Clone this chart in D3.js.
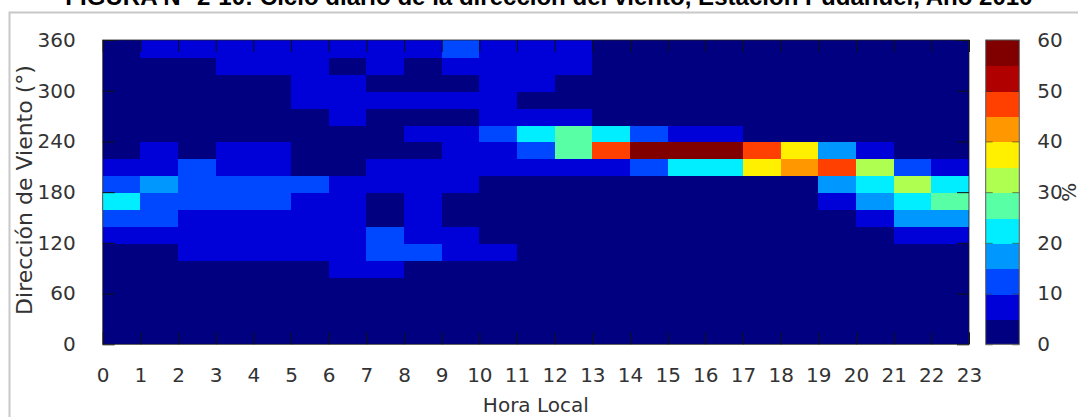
<!DOCTYPE html>
<html>
<head>
<meta charset="utf-8">
<script src="https://cdn.jsdelivr.net/npm/d3@7"></script>
<style>
  html, body { margin: 0; padding: 0; background: #fff; overflow: hidden; }
  svg { display: block; }
</style>
</head>
<body>
<svg id="chart" width="1078" height="417"></svg>
<script>
// ---------------- DATA ----------------
const titleText = "FIGURA N° 2-10: Ciclo diario de la dirección del viento, Estación Pudahuel, Año 2010";
const xTitle = "Hora Local";
const yTitle = "Dirección de Viento (°)";
const cbTitle = "%";

const hourTicks = d3.range(0, 24);                 // 0 .. 23
const dirTicks = [0, 60, 120, 180, 240, 300, 360];
const dirBins = d3.range(0, 360, 20);              // lower edge of each 20° band
const colorTicks = [0, 10, 20, 30, 40, 50, 60];
const colorLevels = ["#000080", "#0000D9", "#0048FF", "#0098FF", "#00EEFF", "#58FFA5",
                     "#AEFF50", "#FFF000", "#FF9800", "#FF4000", "#B00000", "#800000"];

// % frequency per hour (columns 0..22) for each direction band
const dir000 = [1,1,1,1,1,1,1,1,1,1,1,1,1,1,1,1,1,1,1,1,1,1,1];
const dir020 = [1,1,1,1,1,1,1,1,1,1,1,1,1,1,1,1,1,1,1,1,1,1,1];
const dir040 = [1,1,1,1,1,1,2,2,1,1,1,1,1,1,1,1,1,1,1,1,1,1,1];
const dir060 = [2,2,2,2,2,2,3,3,2,2,2,1,1,1,1,1,1,1,1,1,1,1,1];
const dir080 = [2,2,2,3,3,3,6,6,4,2,2,1,1,1,1,1,1,1,1,1,1,1,1];
const dir100 = [4,4,7,7,7,7,7,12,12,7,6,2,1,1,1,1,1,1,1,1,2,3,3];
const dir120 = [8,8,8,8,8,8,8,12,8,6,3,1,1,1,1,1,1,1,1,2,4,8,8];
const dir140 = [12,12,8,8,8,8,8,4,6,4,3,1,1,1,1,1,1,1,1,3,8,17,17];
const dir160 = [22,12,12,12,12,7,7,4,6,4,3,2,1,1,1,1,1,1,2,7,17,22,27];
const dir180 = [12,17,12,12,12,12,8,8,8,7,4,3,2,1,1,1,1,3,4,17,22,32,22];
const dir200 = [6,7,11,7,7,4,4,6,7,7,8,8,8,8,12,22,22,37,42,47,32,12,8];
const dir220 = [4,6,4,6,6,4,4,4,4,6,7,12,27,47,57,57,57,47,38,17,7,3,3];
const dir240 = [3,3,3,3,3,4,4,4,6,7,12,22,27,22,12,8,8,3,2,1,1,1,2];
const dir260 = [3,3,3,3,3,4,6,4,4,4,6,6,6,2,1,1,1,1,1,1,1,1,2];
const dir280 = [3,3,3,4,4,6,6,6,6,6,6,4,3,1,1,1,1,1,1,1,1,1,2];
const dir300 = [4,4,4,4,4,6,6,4,4,4,6,6,3,2,1,1,1,1,1,1,1,1,2];
const dir320 = [4,4,4,6,6,6,4,6,4,6,6,6,6,2,1,1,1,1,1,1,1,1,2];
const dir340 = [3,7,7,7,7,7,7,7,7,11,7,7,6,2,1,1,1,1,1,1,1,1,2];

const rows = [dir000, dir020, dir040, dir060, dir080, dir100, dir120, dir140, dir160,
              dir180, dir200, dir220, dir240, dir260, dir280, dir300, dir320, dir340];

// ---------------- LAYOUT ----------------
const svg = d3.select("#chart");
const FONT = "'DejaVu Sans', Verdana, sans-serif";
const TXT = "#333";
const plot = { left: 102.7, right: 969, top: 40, bottom: 344.3 };
const cb = { left: 985.7, right: 1019.3 };

const x = d3.scaleLinear().domain([0, 23]).range([plot.left, plot.right]);
const y = d3.scaleLinear().domain([0, 360]).range([plot.bottom, plot.top]);
const color = d3.scaleQuantize().domain([0, 60]).range(colorLevels);
const yc = d3.scaleLinear().domain([0, 60]).range([plot.bottom, plot.top]);

// outer frame
svg.append("rect")
  .attr("x", 9.5).attr("y", 12.5).attr("width", 1200).attr("height", 600)
  .attr("fill", "none").attr("stroke", "#c8c8c8").attr("stroke-width", 2);

// title (fit width)
const title = svg.append("text")
  .attr("x", 549).attr("y", 4.5)
  .attr("text-anchor", "middle")
  .attr("font-family", "'Liberation Sans', Arial, sans-serif")
  .attr("font-weight", "bold")
  .attr("font-size", 20)
  .attr("fill", "#000")
  .text(titleText);
const tw = title.node().getComputedTextLength();
title.attr("font-size", 20 * 968 / tw);

// heatmap cells (drawn with slight overlap to hide seams)
const cells = [];
rows.forEach((row, r) => row.forEach((v, c) => cells.push({ dir: dirBins[r], hour: hourTicks[c], v })));
const cellG = svg.append("g").attr("shape-rendering", "crispEdges");
cellG.append("rect")
  .attr("x", plot.left).attr("y", plot.top)
  .attr("width", plot.right - plot.left).attr("height", plot.bottom - plot.top)
  .attr("fill", colorLevels[0]);
cellG.selectAll("rect.cell").data(cells).join("rect")
  .attr("class", "cell")
  .attr("x", d => x(d.hour))
  .attr("y", d => y(d.dir + 20))
  .attr("width", d => Math.min(x(d.hour + 1) + 1, plot.right) - x(d.hour))
  .attr("height", d => Math.min(y(d.dir) + 1, plot.bottom) - y(d.dir + 20))
  .attr("fill", d => color(d.v));

// axes (inward ticks)
const axStyle = g => {
  g.selectAll(".domain").remove();
  g.selectAll("line").attr("stroke", "#111").attr("stroke-width", 1);
  g.selectAll("text").attr("font-family", FONT).attr("font-size", 20).attr("fill", TXT);
};
svg.append("g").attr("transform", `translate(0,${plot.bottom})`)
  .call(d3.axisBottom(x).tickValues(hourTicks).tickFormat(d3.format("d")).tickSizeInner(-12).tickSizeOuter(0).tickPadding(24))
  .call(axStyle);
svg.append("g").attr("transform", `translate(0,${plot.top})`)
  .call(d3.axisTop(x).tickValues(hourTicks).tickFormat("").tickSizeInner(-12).tickSizeOuter(0))
  .call(axStyle);
svg.append("g").attr("transform", `translate(${plot.left},0)`)
  .call(d3.axisLeft(y).tickValues(dirTicks).tickSizeInner(-12).tickSizeOuter(0).tickPadding(27))
  .call(axStyle);
svg.append("g").attr("transform", `translate(${plot.right},0)`)
  .call(d3.axisRight(y).tickValues(dirTicks).tickFormat("").tickSizeInner(-12).tickSizeOuter(0))
  .call(axStyle);

svg.append("rect")
  .attr("x", plot.left).attr("y", plot.top)
  .attr("width", plot.right - plot.left).attr("height", plot.bottom - plot.top)
  .attr("fill", "none").attr("stroke", "#222").attr("stroke-width", 0.8);

// axis titles
svg.append("text")
  .attr("x", (plot.left + plot.right) / 2).attr("y", 412)
  .attr("text-anchor", "middle").attr("font-family", FONT).attr("font-size", 20).attr("fill", TXT)
  .text(xTitle);
svg.append("text")
  .attr("transform", `translate(32,190) rotate(-90)`)
  .attr("text-anchor", "middle").attr("font-family", FONT).attr("font-size", 22).attr("fill", TXT)
  .text(yTitle);

// colorbar
const bands = d3.range(colorLevels.length).map(i => ({ lo: i * 5, hi: i * 5 + 5, c: colorLevels[i] }));
svg.append("g").attr("shape-rendering", "crispEdges").selectAll("rect").data(bands).join("rect")
  .attr("x", cb.left).attr("width", cb.right - cb.left)
  .attr("y", d => yc(d.hi)).attr("height", d => Math.min(yc(d.lo) + 1, plot.bottom) - yc(d.hi))
  .attr("fill", d => d.c);
svg.append("g").attr("transform", `translate(${cb.right},0)`)
  .call(d3.axisRight(yc).tickValues(colorTicks).tickSizeInner(-7).tickSizeOuter(0).tickPadding(18))
  .call(axStyle)
  .call(g => g.selectAll("line").attr("stroke", "#333").attr("stroke-opacity", 0.6));
svg.append("g").attr("transform", `translate(${cb.left},0)`)
  .call(d3.axisLeft(yc).tickValues(colorTicks).tickFormat("").tickSizeInner(-7).tickSizeOuter(0))
  .call(axStyle)
  .call(g => g.selectAll("line").attr("stroke", "#333").attr("stroke-opacity", 0.6));
svg.append("rect")
  .attr("x", cb.left).attr("y", plot.top)
  .attr("width", cb.right - cb.left).attr("height", plot.bottom - plot.top)
  .attr("fill", "none").attr("stroke", "#555").attr("stroke-width", 1);

svg.append("text")
  .attr("transform", `translate(1076,${(plot.top + plot.bottom) / 2}) rotate(-90)`)
  .attr("text-anchor", "middle").attr("font-family", FONT).attr("font-size", 20).attr("fill", TXT)
  .text(cbTitle);
</script>
</body>
</html>
